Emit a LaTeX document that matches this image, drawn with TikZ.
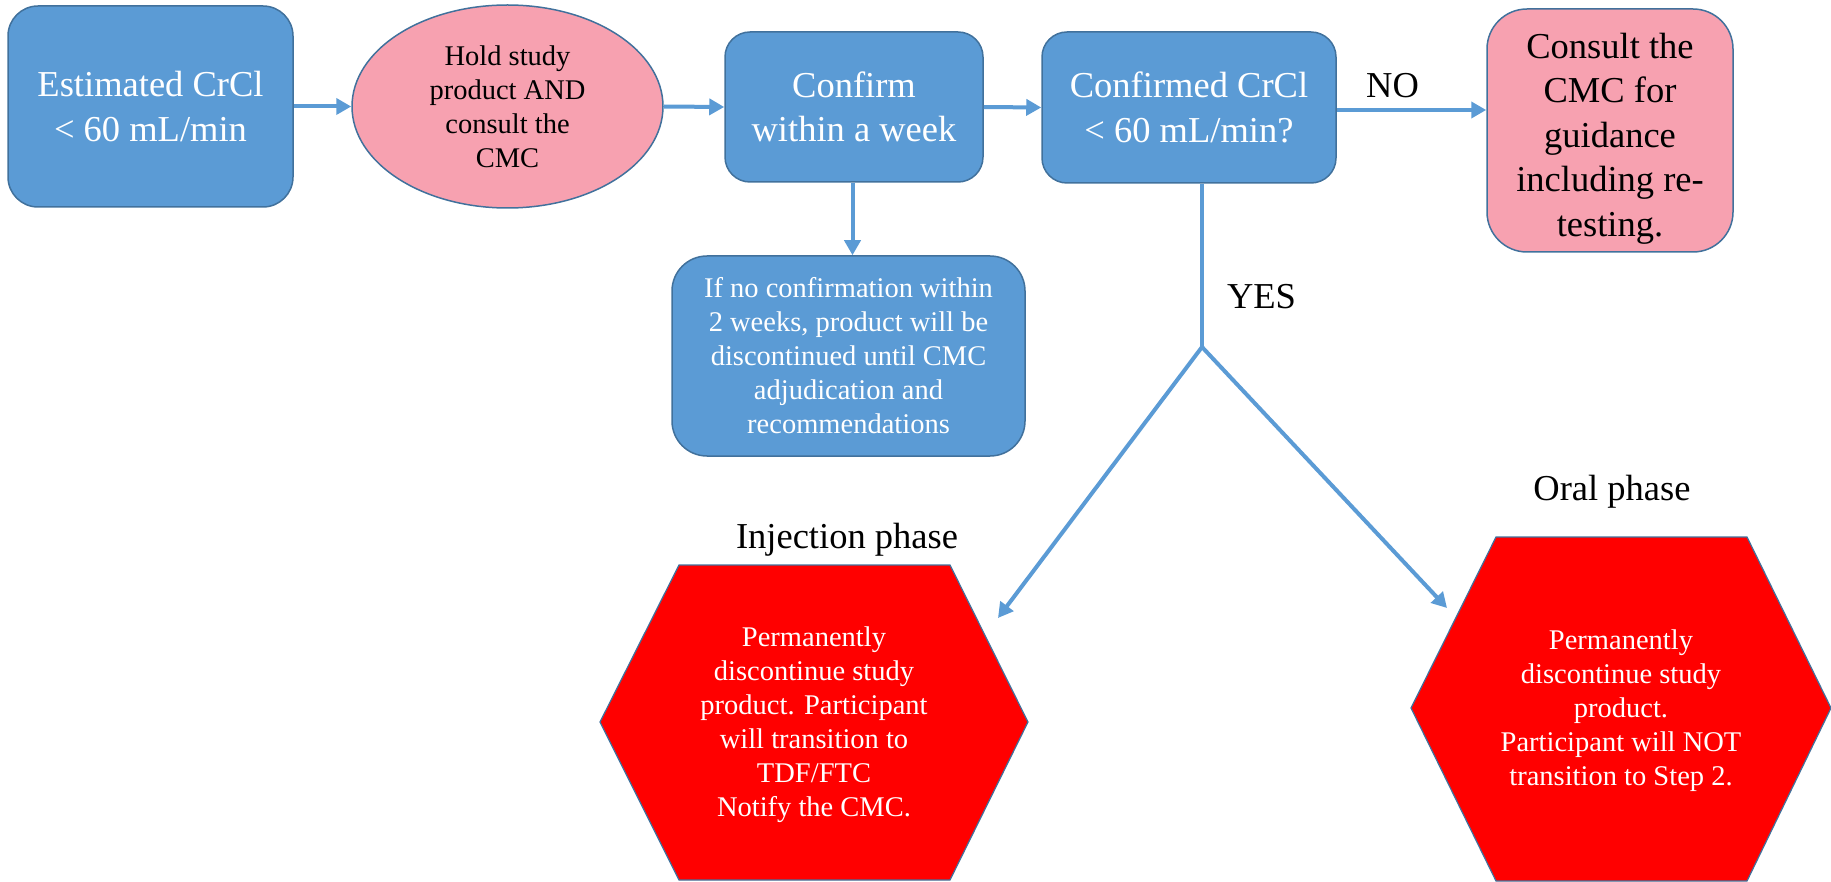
\documentclass[tikz,border=0pt]{standalone}
\usepackage{fontspec}
\setmainfont{Liberation Serif}
\usetikzlibrary{arrows.meta,shapes.geometric}
\definecolor{boxblue}{HTML}{5B9BD5}
\definecolor{edgeblue}{HTML}{41719C}
\definecolor{softpink}{RGB}{247,161,176}
\newcommand\flowbig{\fontsize{36.5}{44.5}\selectfont}
\newcommand\flowsmall{\fontsize{28.5}{34}\selectfont}
\tikzset{
  bluebox/.style={rectangle, draw=edgeblue, line width=1.5pt, fill=boxblue,
    rounded corners=30pt, text=white, align=center, inner sep=0pt},
  pinkbox/.style={rectangle, draw=edgeblue, line width=1.5pt, fill=softpink,
    rounded corners=40pt, text=black, align=center, inner sep=0pt},
  flow/.style={draw=boxblue, line width=4pt, -{Triangle[length=15pt,width=16pt]}},
  plainline/.style={draw=boxblue, line width=4pt},
  hexshape/.style={draw=edgeblue, line width=1.2pt, fill=red},
  label/.style={text=black, font=\flowbig, anchor=base, inner sep=0pt}
}
\begin{document}
\begin{tikzpicture}[x=1pt,y=-1pt]
\useasboundingbox (0,0) rectangle (1831,882);

% top row
\node[bluebox, minimum width=285pt, minimum height=201pt, font=\flowbig] (est) at (150.5,106.5)
  {Estimated CrCl\\\textless{} 60 mL/min};
\node[ellipse, draw=edgeblue, line width=1.5pt, fill=softpink, inner sep=0pt,
  minimum width=311pt, minimum height=203pt, align=center, font=\flowsmall] (hold) at (507.5,106.5)
  {Hold study\\product AND\\consult the\\CMC};
\node[bluebox, rounded corners=25pt, minimum width=258pt, minimum height=150pt, font=\flowbig] (conf) at (854,107)
  {Confirm\\within a week};
\node[bluebox, rounded corners=25pt, minimum width=294pt, minimum height=151pt, font=\flowbig] (crcl) at (1189,107.5)
  {Confirmed CrCl\\\textless{} 60 mL/min?};
\node[pinkbox, minimum width=246pt, minimum height=243pt] (consult) at (1610,130.5) {};
\node[text=black, align=center, inner sep=0pt, font=\flowbig] (consulttext) at ([yshift=-8pt]consult.center)
  {Consult the\\CMC for\\guidance\\including re-\\testing.};

% pending confirmation
\node[bluebox, rounded corners=35pt, minimum width=353pt, minimum height=200pt, font=\flowsmall] (pending) at (848.5,356)
  {If no confirmation within\\2 weeks, product will be\\discontinued until CMC\\adjudication and\\recommendations};

% outcome hexagons
\path[hexshape] (600,722) -- (679,565) -- (950,565) -- (1028,722) -- (950,880) -- (679,880) -- cycle;
\node[text=white, align=center, font=\flowsmall, inner sep=0pt] (inj) at (814,725)
  {Permanently\\discontinue study\\product. Participant\\will transition to\\TDF/FTC\\Notify the CMC.};
\path[hexshape] (1411,708) -- (1496,537) -- (1747,537) -- (1831,708) -- (1747,881) -- (1496,881) -- cycle;
\node[text=white, align=center, font=\flowsmall, inner sep=0pt] (oral) at (1621,711)
  {Permanently\\discontinue study\\product.\\Participant will NOT\\transition to Step 2.};

% labels
\node[label] (nolab) at (1392.5,98) {NO};
\node[label] (yeslab) at (1261.5,309) {YES};
\node[label] (injlab) at (847,548) {Injection phase};
\node[label] (orallab) at (1612,500) {Oral phase};

% connectors
\coordinate (split) at (1202,347);
\coordinate (injtip) at (998,618);
\coordinate (oraltip) at (1447,608);
\draw[flow] (est.east) -- (hold.west);
\draw[flow] (hold.east) -- (conf.west);
\draw[flow] (conf.east) -- (crcl.west);
\draw[flow] ([yshift=-2.5pt]crcl.east) -- ([yshift=-2.5pt]crcl.east -| consult.west);
\draw[flow] ([xshift=-1.5pt]conf.south) -- ([xshift=-1.5pt]conf.south |- pending.north);
\draw[plainline] (crcl.south -| split) -- (split);
\draw[flow] (split) -- (injtip);
\draw[flow] (split) -- (oraltip);
\end{tikzpicture}
\end{document}
